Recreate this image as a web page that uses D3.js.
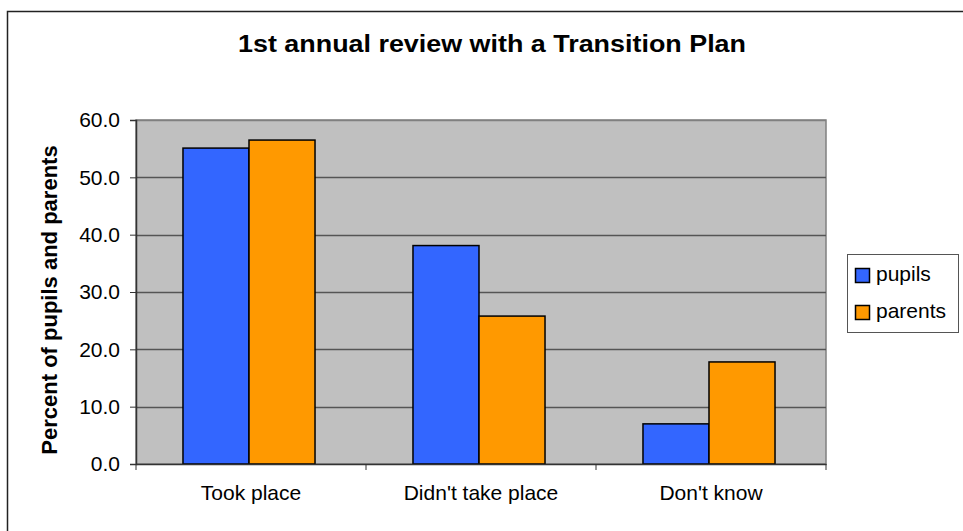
<!DOCTYPE html>
<html>
<head>
<meta charset="utf-8">
<script src="https://cdn.jsdelivr.net/npm/d3@7"></script>
<style>
  body { margin: 0; background: #fff; }
  svg { font-family: "Liberation Sans", Arial, sans-serif; }
</style>
</head>
<body>
<svg id="chart" width="963" height="531"></svg>
<script>
var categories = ["Took place", "Didn't take place", "Don't know"];
var seriesNames = ["pupils", "parents"];
var pupils = [55.1, 38.1, 7.0];
var parents = [56.5, 25.8, 17.8];
var yTicks = [0, 10, 20, 30, 40, 50, 60];
var colors = ["#3366ff", "#ff9900"];

var svg = d3.select('#chart');
var m = {left: 136, right: 826, top: 120, bottom: 464};
var font = '"Liberation Sans", Arial, sans-serif';

// outer chart frame (right and bottom edges fall outside the picture)
svg.append('rect')
  .attr('x', 7.5).attr('y', 11.5)
  .attr('width', 1000).attr('height', 600)
  .attr('fill', '#fff').attr('stroke', '#222').attr('stroke-width', 1.5);

var x0 = d3.scaleBand().domain(categories).range([m.left, m.right]).paddingInner(0).paddingOuter(0);
var x1 = d3.scaleBand().domain(seriesNames).range([0, x0.bandwidth()]).paddingInner(0).paddingOuter(0.742);
var y = d3.scaleLinear().domain([0, 60]).range([m.bottom, m.top]);

// plot background
svg.append('rect')
  .attr('x', m.left).attr('y', m.top)
  .attr('width', m.right - m.left).attr('height', m.bottom - m.top)
  .attr('fill', '#c0c0c0').attr('stroke', '#808080').attr('stroke-width', 1.5);

// gridlines
svg.append('g').selectAll('line')
  .data(yTicks.filter(function(d){ return d > 0; }))
  .enter().append('line')
  .attr('x1', m.left).attr('x2', m.right)
  .attr('y1', function(d){ return Math.round(y(d)) + 0.5; })
  .attr('y2', function(d){ return Math.round(y(d)) + 0.5; })
  .attr('stroke', function(d){ return d === 60 ? '#808080' : '#555'; })
  .attr('stroke-width', 1.5);

// bars
var rows = categories.map(function(c, i){
  return [{cat: c, s: 'pupils', v: pupils[i]}, {cat: c, s: 'parents', v: parents[i]}];
});
svg.append('g').selectAll('g')
  .data(rows).enter().append('g')
  .attr('transform', function(d){ return 'translate(' + (x0(d[0].cat) - 2) + ',0)'; })
  .selectAll('rect')
  .data(function(d){ return d; })
  .enter().append('rect')
  .attr('x', function(d){ return x1(d.s); })
  .attr('y', function(d){ return y(d.v); })
  .attr('width', x1.bandwidth())
  .attr('height', function(d){ return y(0) - y(d.v); })
  .attr('fill', function(d, i){ return colors[i]; })
  .attr('stroke', '#000').attr('stroke-width', 1.5);

// y axis
var yAxis = svg.append('g')
  .attr('transform', 'translate(' + m.left + ',0)')
  .call(d3.axisLeft(y).tickValues(yTicks).tickFormat(d3.format('.1f')).tickSize(6).tickPadding(10));
yAxis.select('.domain').attr('stroke', '#333').attr('stroke-width', 1.5);
yAxis.selectAll('.tick line').attr('stroke', '#333').attr('stroke-width', 1);
yAxis.selectAll('text').attr('font-size', 21).attr('fill', '#000').attr('font-family', font);

// x axis
var xAxis = svg.append('g')
  .attr('transform', 'translate(0,' + m.bottom + ')')
  .call(d3.axisBottom(x0).tickSize(0).tickPadding(21));
xAxis.select('.domain').attr('stroke', '#333').attr('stroke-width', 1.5);
xAxis.selectAll('text').attr('font-size', 21).attr('fill', '#000').attr('font-family', font);
svg.append('g').selectAll('line')
  .data(d3.range(categories.length + 1))
  .enter().append('line')
  .attr('x1', function(i){ return m.left + i * x0.step(); })
  .attr('x2', function(i){ return m.left + i * x0.step(); })
  .attr('y1', m.bottom).attr('y2', m.bottom + 6)
  .attr('stroke', '#333').attr('stroke-width', 1);

// title
svg.append('text')
  .attr('x', 238).attr('y', 52)
  .attr('font-size', 23).attr('font-weight', 'bold')
  .attr('textLength', 508).attr('lengthAdjust', 'spacingAndGlyphs')
  .text('1st annual review with a Transition Plan');

// y label
svg.append('text')
  .attr('transform', 'translate(57,300) rotate(-90)')
  .attr('text-anchor', 'middle')
  .attr('font-size', 22).attr('font-weight', 'bold')
  .text('Percent of pupils and parents');

// legend
var lg = svg.append('g').attr('transform', 'translate(847,254)');
lg.append('rect').attr('x', 0.5).attr('y', 0.5).attr('width', 111).attr('height', 78)
  .attr('fill', '#fff').attr('stroke', '#555').attr('stroke-width', 1);
lg.selectAll('g.item').data(seriesNames).enter().append('g')
  .attr('class', 'item')
  .attr('transform', function(d, i){ return 'translate(0,' + (21 + i * 37) + ')'; })
  .each(function(d, i){
    var g = d3.select(this);
    g.append('rect').attr('x', 8.5).attr('y', -6.5).attr('width', 14).attr('height', 14)
      .attr('fill', colors[i]).attr('stroke', '#000').attr('stroke-width', 1.5);
    g.append('text').attr('x', 29).attr('y', 6).attr('font-size', 21).text(d);
  });
</script>
</body>
</html>
